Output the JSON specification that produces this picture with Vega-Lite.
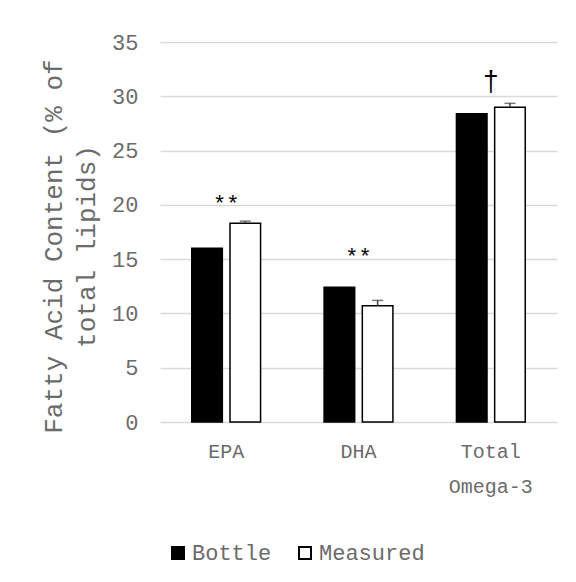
{
  "$schema": "https://vega.github.io/schema/vega-lite/v6.json",
  "width": 397,
  "height": 380,
  "autosize": "none",
  "padding": {"left": 160, "top": 42, "right": 19, "bottom": 160},
  "background": "white",
  "config": {
    "view": {"stroke": null},
    "font": "Liberation Mono",
    "axis": {"labelFont": "Liberation Mono", "titleFont": "Liberation Mono"},
    "legend": {"labelFont": "Liberation Mono"}
  },
  "datasets": {
    "bars": [
      {"cat": "EPA", "group": "Bottle", "value": 16.0},
      {"cat": "EPA", "group": "Measured", "value": 18.3, "upper": 18.5},
      {"cat": "DHA", "group": "Bottle", "value": 12.4},
      {"cat": "DHA", "group": "Measured", "value": 10.7, "upper": 11.2},
      {"cat": "Total Omega-3", "group": "Bottle", "value": 28.4},
      {"cat": "Total Omega-3", "group": "Measured", "value": 29.0, "upper": 29.35}
    ],
    "notes": [
      {"cat": "EPA", "label": "**", "y": 20.1, "size": 22},
      {"cat": "DHA", "label": "**", "y": 15.2, "size": 22},
      {"cat": "Total Omega-3", "label": "†", "y": 31.3, "size": 28}
    ]
  },
  "layer": [
    {
      "data": {"name": "bars"},
      "mark": {"type": "bar", "stroke": "black", "strokeWidth": 1.5},
      "encoding": {
        "x": {
          "field": "cat", "type": "nominal", "sort": ["EPA", "DHA", "Total Omega-3"],
          "scale": {"paddingInner": 0.48, "paddingOuter": 0.24},
          "axis": {
            "title": null, "domain": false, "ticks": false, "labelAngle": 0,
            "labelFontSize": 20, "labelColor": "#6b6b6b", "labelPadding": 19,
            "labelLineHeight": 35,
            "labelExpr": "datum.label == 'Total Omega-3' ? ['Total', 'Omega-3'] : datum.label"
          }
        },
        "xOffset": {"field": "group", "type": "nominal", "scale": {"paddingInner": 0.2, "paddingOuter": 0}},
        "y": {
          "field": "value", "type": "quantitative",
          "scale": {"domain": [0, 35], "nice": false},
          "axis": {
            "values": [0, 5, 10, 15, 20, 25, 30, 35],
            "title": ["Fatty Acid Content (% of", "total lipids)"],
            "titleFontSize": 26, "titleFontWeight": "normal", "titleColor": "#6b6b6b",
            "titleLineHeight": 33, "titlePadding": 12, "titleY": 204,
            "domain": false, "ticks": false,
            "labelFontSize": 22, "labelColor": "#6b6b6b", "labelPadding": 22,
            "gridColor": "#d9d9d9", "gridWidth": 1.5
          }
        },
        "fill": {
          "field": "group", "type": "nominal",
          "scale": {"domain": ["Bottle", "Measured"], "range": ["black", "white"]},
          "legend": {
            "title": null, "orient": "none", "direction": "horizontal",
            "legendX": 7, "legendY": 500,
            "symbolType": "square", "symbolSize": 144,
            "symbolStrokeColor": "black", "symbolStrokeWidth": 2,
            "labelFontSize": 22, "labelColor": "#6b6b6b", "labelOffset": 3,
            "columnPadding": 22
          }
        }
      }
    },
    {
      "data": {"name": "bars"},
      "transform": [{"filter": "isValid(datum.upper)"}],
      "mark": {"type": "rule", "color": "#404040", "strokeWidth": 1.5},
      "encoding": {
        "x": {"field": "cat", "type": "nominal", "sort": ["EPA", "DHA", "Total Omega-3"]},
        "xOffset": {"field": "group", "type": "nominal"},
        "y": {"field": "value", "type": "quantitative"},
        "y2": {"field": "upper"}
      }
    },
    {
      "data": {"name": "bars"},
      "transform": [{"filter": "isValid(datum.upper)"}],
      "mark": {"type": "tick", "color": "#404040", "size": 11, "thickness": 1.5, "orient": "horizontal"},
      "encoding": {
        "x": {"field": "cat", "type": "nominal", "sort": ["EPA", "DHA", "Total Omega-3"]},
        "xOffset": {"field": "group", "type": "nominal"},
        "y": {"field": "upper", "type": "quantitative"}
      }
    },
    {
      "data": {"name": "notes"},
      "mark": {"type": "text", "color": "black", "baseline": "middle"},
      "encoding": {
        "x": {"field": "cat", "type": "nominal", "sort": ["EPA", "DHA", "Total Omega-3"]},
        "y": {"field": "y", "type": "quantitative"},
        "text": {"field": "label"},
        "size": {"field": "size", "type": "quantitative", "scale": null, "legend": null}
      }
    }
  ]
}
